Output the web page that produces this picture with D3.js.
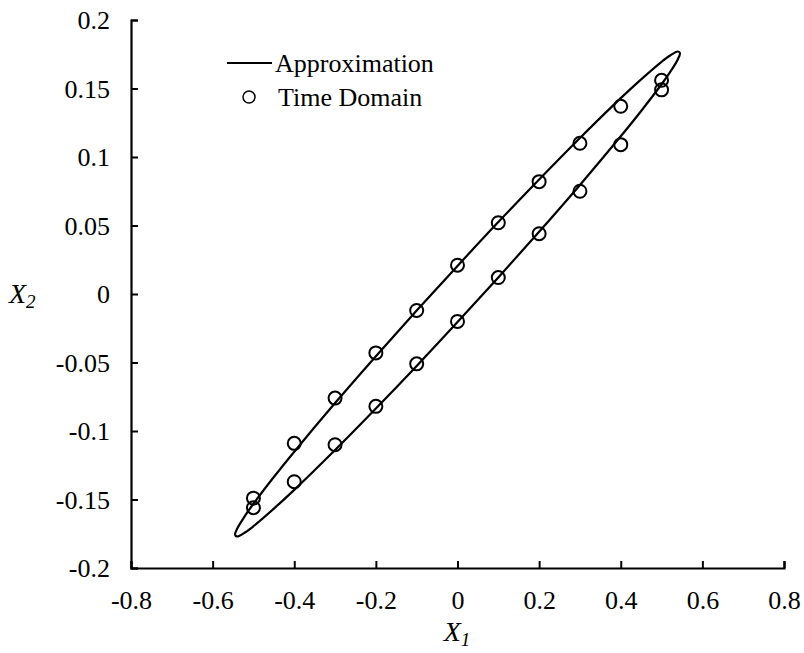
<!DOCTYPE html>
<html>
<head>
<meta charset="utf-8">
<script src="https://cdn.jsdelivr.net/npm/d3@7"></script>
<style>
  body { margin: 0; background: #fff; }
  svg text { font-family: "Liberation Serif", "Times New Roman", Times, serif; fill: #000; }
</style>
</head>
<body>
<div id="chart"></div>
<script>
// Approximation curve (closed loop)
const curveX = [-0.545, -0.54, -0.52, -0.5, -0.45, -0.4, -0.3, -0.2, -0.1, 0, 0.1, 0.2, 0.3, 0.4, 0.45, 0.5, 0.52, 0.54,
                0.545, 0.54, 0.52, 0.5, 0.45, 0.4, 0.3, 0.2, 0.1, 0, -0.1, -0.2, -0.3, -0.4, -0.45, -0.5, -0.52, -0.54];
const curveY = [-0.1758, -0.1714, -0.1616, -0.1531, -0.1336, -0.1151, -0.0796, -0.0454, -0.0121, 0.0205, 0.0525, 0.0836, 0.1139, 0.1430, 0.1567, 0.1695, 0.1739, 0.1770,
                0.1758, 0.1714, 0.1616, 0.1531, 0.1336, 0.1151, 0.0796, 0.0454, 0.0121, -0.0205, -0.0525, -0.0836, -0.1139, -0.1430, -0.1567, -0.1695, -0.1739, -0.1770];

// Time domain points
const timeX = [-0.5, -0.4, -0.3, -0.2, -0.1, 0, 0.1, 0.2, 0.3, 0.4, 0.5,
               -0.5, -0.4, -0.3, -0.2, -0.1, 0, 0.1, 0.2, 0.3, 0.4, 0.5];
const timeY = [-0.149, -0.109, -0.076, -0.043, -0.012, 0.021, 0.052, 0.082, 0.110, 0.137, 0.156,
               -0.156, -0.137, -0.110, -0.082, -0.051, -0.020, 0.012, 0.044, 0.075, 0.109, 0.149];

const xTicks = [-0.8, -0.6, -0.4, -0.2, 0, 0.2, 0.4, 0.6, 0.8];
const yTicks = [-0.2, -0.15, -0.1, -0.05, 0, 0.05, 0.1, 0.15, 0.2];

const width = 804, height = 653;
const plotLeft = 131, plotRight = 784, plotTop = 20, plotBottom = 568;
const serif = '"Liberation Serif", "Times New Roman", serif';

const svg = d3.select('#chart').append('svg')
    .attr('width', width)
    .attr('height', height);

const x = d3.scaleLinear().domain([-0.8, 0.8]).range([plotLeft, plotRight]);
const y = d3.scaleLinear().domain([-0.2, 0.2]).range([plotBottom, plotTop]);

// axes, ticks pointing inward
const xAxis = svg.append('g')
    .attr('transform', `translate(0,${plotBottom})`)
    .call(d3.axisBottom(x).tickValues(xTicks).tickSizeInner(-7).tickSizeOuter(-7)
        .tickFormat(d => String(d)));
const yAxis = svg.append('g')
    .attr('transform', `translate(${plotLeft},0)`)
    .call(d3.axisLeft(y).tickValues(yTicks).tickSizeInner(-7).tickSizeOuter(-7)
        .tickFormat(d => String(d)));

[xAxis, yAxis].forEach(a => {
    a.attr('font-family', serif).attr('font-size', 26);
    a.select('.domain').attr('stroke', '#000').attr('stroke-width', 2.2);
    a.selectAll('.tick line').attr('stroke', '#000').attr('stroke-width', 2);
    a.selectAll('.tick text').attr('fill', '#000');
});
xAxis.selectAll('.tick text').attr('dy', null).attr('y', 41);
yAxis.selectAll('.tick text').attr('dy', '0.33em').attr('x', -21);

// approximation loop
const line = d3.line()
    .x(d => x(d[0]))
    .y(d => y(d[1]))
    .curve(d3.curveCatmullRomClosed);

svg.append('path')
    .datum(curveX.map((v, i) => [v, curveY[i]]))
    .attr('d', line)
    .attr('fill', 'none')
    .attr('stroke', '#000')
    .attr('stroke-width', 2.2);

// time domain markers
svg.append('g').selectAll('circle')
    .data(timeX.map((v, i) => [v, timeY[i]]))
    .join('circle')
    .attr('cx', d => x(d[0]))
    .attr('cy', d => y(d[1]))
    .attr('r', 6.5)
    .attr('fill', 'none')
    .attr('stroke', '#000')
    .attr('stroke-width', 2);

// legend
const legend = svg.append('g').attr('font-family', serif).attr('font-size', 26);
legend.append('line')
    .attr('x1', 227).attr('x2', 272)
    .attr('y1', 63).attr('y2', 63)
    .attr('stroke', '#000').attr('stroke-width', 2);
legend.append('text')
    .attr('x', 275).attr('y', 72)
    .text('Approximation');
legend.append('circle')
    .attr('cx', 249).attr('cy', 97).attr('r', 6)
    .attr('fill', 'none').attr('stroke', '#000').attr('stroke-width', 1.5);
legend.append('text')
    .attr('x', 278).attr('y', 106)
    .text('Time Domain');

// axis titles
const xt = svg.append('text')
    .attr('x', 457).attr('y', 641)
    .attr('text-anchor', 'middle')
    .attr('font-size', 28)
    .attr('font-style', 'italic');
xt.append('tspan').text('X');
xt.append('tspan').attr('dy', 5).attr('font-size', 19).text('1');

const yt = svg.append('text')
    .attr('x', 9).attr('y', 303)
    .attr('font-size', 28)
    .attr('font-style', 'italic');
yt.append('tspan').text('X');
yt.append('tspan').attr('dy', 5).attr('font-size', 19).text('2');
</script>
</body>
</html>
